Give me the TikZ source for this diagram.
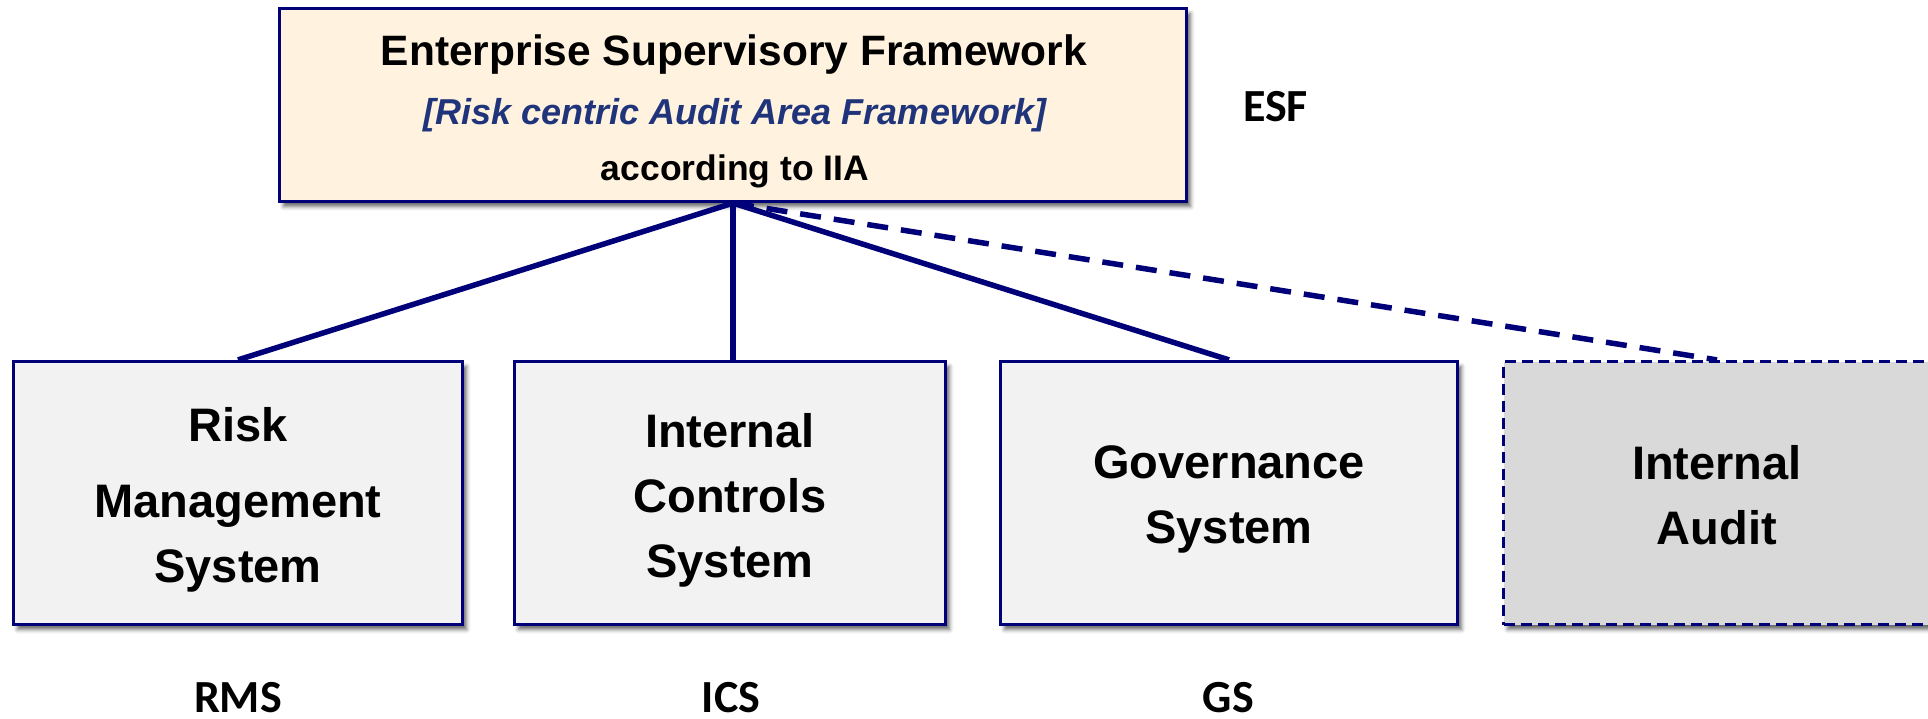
\documentclass[tikz,border=0pt]{standalone}
\usepackage{fontspec}
\setmainfont{Liberation Sans}
\newfontfamily\calib{Carlito}
\usetikzlibrary{shadows.blur}
\definecolor{navy}{RGB}{0,0,120}
\definecolor{cream}{RGB}{255,243,224}
\definecolor{boxgray}{RGB}{242,242,242}
\definecolor{iagray}{RGB}{217,217,217}
\definecolor{italblue}{RGB}{31,52,122}
\begin{document}
\begin{tikzpicture}[x=1pt,y=-1pt,
  box/.style={draw=navy, line width=3.2pt, inner sep=0pt, rectangle,
    blur shadow={shadow xshift=4pt, shadow yshift=-5pt, shadow blur radius=4pt, shadow opacity=60}},
  boxtext/.style={font=\fontsize{47}{65}\selectfont\bfseries, align=center, inner sep=0pt, anchor=north},
  abbr/.style={font=\calib\fontsize{46}{50}\selectfont\bfseries, inner sep=0pt, anchor=base},
  conn/.style={draw=navy, line width=5.5pt},
  dconn/.style={draw=navy, line width=5.5pt, dash pattern=on 21pt off 13pt}
]
\useasboundingbox (0,0) rectangle (1928,719);
\clip (0,0) rectangle (1928,719);

% top box
\node[box, fill=cream, minimum width=907pt, minimum height=193pt] (esf) at (733,105) {};
\node[font=\fontsize{42.5}{50}\selectfont\bfseries, inner sep=0pt, anchor=base] (esft1) at (734,66) {Enterprise Supervisory Framework};
\node[font=\fontsize{36}{40}\selectfont\bfseries\itshape, text=italblue, inner sep=0pt, anchor=base] (esft2) at (735,125) {[Risk centric Audit Area Framework]};
\node[font=\fontsize{35.5}{40}\selectfont\bfseries, inner sep=0pt, anchor=base] (esft3) at (735,181) {according to IIA};
\node[abbr] (esflab) at (1275.5,122) {ESF};

% lower boxes
\node[box, fill=boxgray, minimum width=449pt, minimum height=263pt] (rms) at (238,493) {};
\node[box, fill=boxgray, minimum width=431pt, minimum height=263pt] (ics) at (730,493) {};
\node[box, fill=boxgray, minimum width=457pt, minimum height=263pt] (gs) at (1229,493) {};
\node[box, fill=iagray, dash pattern=on 11pt off 6pt, minimum width=427pt, minimum height=263pt] (ia) at (1717,493) {};

\node[boxtext] (rmst) at (238,407) {Risk\\[11pt]Management\\System};
\node[boxtext] (icst) at (730,413) {Internal\\Controls\\System};
\node[boxtext] (gst) at (1229,445) {Governance\\System};
\node[boxtext] (iat) at (1717,445) {Internal\\Audit};

% abbreviations
\node[abbr] (rmslab) at (238,712) {RMS};
\node[abbr] (icslab) at (731,712) {ICS};
\node[abbr] (gslab) at (1228.5,712) {GS};

% connectors
\draw[conn] (esf.south) -- (rms.north);
\draw[conn] (esf.south) -- (ics.north -| esf.south);
\draw[conn] (esf.south) -- (gs.north);
\draw[dconn] (esf.south) -- (ia.north);
\end{tikzpicture}
\end{document}
